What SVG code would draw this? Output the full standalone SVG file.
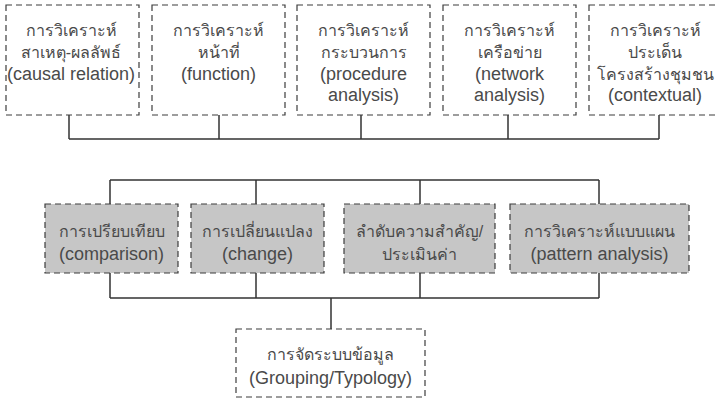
<svg xmlns="http://www.w3.org/2000/svg" width="717" height="399" viewBox="0 0 717 399">
<style>
.box{fill:#ffffff;stroke:#3c3c3c;stroke-width:1.2;stroke-dasharray:6 4}
.gray{fill:#c6c6c6}
.t{font-family:"Liberation Sans","Noto Sans",sans-serif;font-size:18px;fill:#4a4a4a;text-anchor:middle}
.th{font-size:16px}
.c{fill:none;stroke:#333333;stroke-width:1.5}
</style>
<rect width="717" height="399" fill="#ffffff"/>
<g id="connectors">
<path class="c" d="M69 115V139M219 115V139M361 115V139M508 115V139M659 115V139M69 139H659"/>
<path class="c" d="M110 180H599M110 180V204M256 180V204M420 180V204M599 180V204"/>
<path class="c" d="M110 273V298M256 273V298M420 273V298M599 273V298M110 298H599M331 298V329"/>
</g>
<g id="n1"><rect class="box" x="6" y="5" width="133" height="110"/>
<text class="t th" x="71" y="36">การวิเคราะห์</text><text class="t th" x="71" y="58">สาเหตุ-ผลลัพธ์</text><text class="t" x="71" y="80">(causal relation)</text></g>
<g id="n2"><rect class="box" x="152" y="5" width="133" height="110"/>
<text class="t th" x="218.5" y="36">การวิเคราะห์</text><text class="t th" x="218.5" y="58">หน้าที่</text><text class="t" x="218.5" y="80">(function)</text></g>
<g id="n3"><rect class="box" x="297" y="5" width="133" height="110"/>
<text class="t th" x="363.5" y="36">การวิเคราะห์</text><text class="t th" x="363.5" y="58">กระบวนการ</text><text class="t" x="363.5" y="80">(procedure</text><text class="t" x="363.5" y="101">analysis)</text></g>
<g id="n4"><rect class="box" x="443" y="5" width="133" height="110"/>
<text class="t th" x="509.5" y="36">การวิเคราะห์</text><text class="t th" x="509.5" y="58">เครือข่าย</text><text class="t" x="509.5" y="80">(network</text><text class="t" x="509.5" y="101">analysis)</text></g>
<g id="n5"><rect class="box" x="589" y="5" width="133" height="110"/>
<text class="t th" x="655" y="36">การวิเคราะห์</text><text class="t th" x="655" y="58">ประเด็น</text><text class="t th" x="655" y="80">โครงสร้างชุมชน</text><text class="t" x="655" y="101">(contextual)</text></g>
<g id="m1"><rect class="box gray" x="45" y="204" width="133" height="69"/>
<text class="t th" x="111.5" y="237">การเปรียบเทียบ</text><text class="t" x="111.5" y="260">(comparison)</text></g>
<g id="m2"><rect class="box gray" x="191" y="204" width="133" height="69"/>
<text class="t th" x="257.5" y="237">การเปลี่ยนแปลง</text><text class="t" x="257.5" y="260">(change)</text></g>
<g id="m3"><rect class="box gray" x="344" y="204" width="151" height="69"/>
<text class="t th" x="419.5" y="237">ลำดับความสำคัญ/</text><text class="t th" x="419.5" y="260">ประเมินค่า</text></g>
<g id="m4"><rect class="box gray" x="510" y="204" width="179" height="69"/>
<text class="t th" x="599.5" y="237">การวิเคราะห์แบบแผน</text><text class="t" x="599.5" y="260">(pattern analysis)</text></g>
<g id="b1"><rect class="box" x="236" y="329" width="189" height="68"/>
<text class="t th" x="330.5" y="360">การจัดระบบข้อมูล</text><text class="t" x="330.5" y="384">(Grouping/Typology)</text></g>
</svg>
